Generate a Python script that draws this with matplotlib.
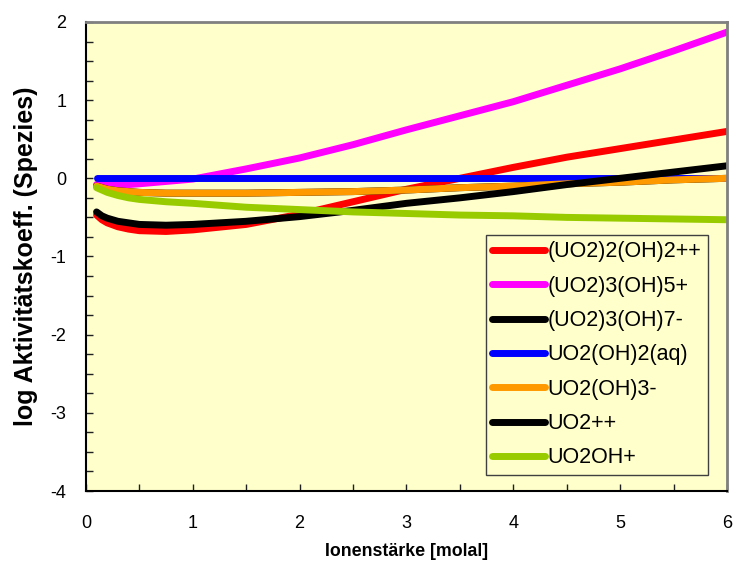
import matplotlib
matplotlib.use("Agg")
import matplotlib.pyplot as plt
from matplotlib.ticker import MultipleLocator

plt.rcParams['font.family'] = ['Liberation Sans', 'DejaVu Sans']
plt.rcParams['axes.unicode_minus'] = False

# ionic strength (molal)
ionic = [0.1, 0.15, 0.2, 0.3, 0.4, 0.5, 0.75, 1.0, 1.5, 2.0, 2.5, 3.0, 3.5, 4.0, 4.5, 5.0, 5.5, 6.0]

# log activity coefficients per species
uo2_2_oh2 = [-0.47, -0.53, -0.57, -0.62, -0.65, -0.67, -0.68, -0.66, -0.59, -0.46, -0.30, -0.14, 0.00, 0.14, 0.27, 0.38, 0.49, 0.60]
uo2_3_oh5 = [-0.08, -0.08, -0.08, -0.08, -0.08, -0.07, -0.04, -0.01, 0.12, 0.26, 0.43, 0.62, 0.80, 0.98, 1.19, 1.40, 1.63, 1.87]
uo2_oh3 = [-0.10, -0.12, -0.14, -0.16, -0.17, -0.18, -0.19, -0.19, -0.19, -0.18, -0.17, -0.15, -0.12, -0.10, -0.07, -0.05, -0.02, 0.00]
uo2_3_oh7 = list(uo2_oh3)
uo2_oh2_aq = [0.0] * len(ionic)
uo2 = [-0.43, -0.48, -0.51, -0.55, -0.57, -0.59, -0.60, -0.59, -0.55, -0.49, -0.41, -0.32, -0.25, -0.17, -0.08, 0.00, 0.08, 0.16]
uo2oh = [-0.12, -0.15, -0.18, -0.22, -0.25, -0.27, -0.30, -0.32, -0.37, -0.40, -0.43, -0.45, -0.47, -0.48, -0.50, -0.51, -0.52, -0.53]

series = [
    ("(UO2)2(OH)2++", uo2_2_oh2, "#FF0000"),
    ("(UO2)3(OH)5+", uo2_3_oh5, "#FF00FF"),
    ("(UO2)3(OH)7-", uo2_3_oh7, "#000000"),
    ("UO2(OH)2(aq)", uo2_oh2_aq, "#0000FF"),
    ("UO2(OH)3-", uo2_oh3, "#FF9900"),
    ("UO2++", uo2, "#000000"),
    ("UO2OH+", uo2oh, "#99CC00"),
]

fig = plt.figure(figsize=(7.34, 5.72), dpi=100)
ax = fig.add_axes([0.117, 0.1416, 0.8735, 0.82])
ax.set_facecolor("#FFFFCC")

for name, vals, col in series:
    ax.plot(ionic, vals, color=col, lw=5, solid_capstyle="round", label=name)

ax.set_xlim(0, 6)
ax.set_ylim(-4, 2)
ax.xaxis.set_major_locator(MultipleLocator(1))
ax.xaxis.set_minor_locator(MultipleLocator(0.5))
ax.yaxis.set_major_locator(MultipleLocator(1))
ax.yaxis.set_minor_locator(MultipleLocator(0.25))
ax.tick_params(which="both", direction="in", length=5, width=1, labelsize=13, color="#202020")
ax.tick_params(axis="x", pad=17)
ax.tick_params(axis="y", pad=14)

for s in ("left", "bottom"):
    ax.spines[s].set_color("#000000")
    ax.spines[s].set_linewidth(1.5)
for s in ("top", "right"):
    ax.spines[s].set_color("#808080")
    ax.spines[s].set_linewidth(2)

ax.set_xlabel("Ionenstärke [molal]", fontsize=12.8, fontweight="bold", labelpad=8)
ax.set_ylabel("log Aktivitätskoeff. (Spezies)", fontsize=18, fontweight="bold", labelpad=9)

leg = ax.legend(loc="upper left", bbox_to_anchor=(0.624, 0.546), fontsize=15.5,
                frameon=True, fancybox=False, facecolor="#FFFFCC", edgecolor="#404040",
                framealpha=1, handlelength=2.42, handletextpad=0.15, labelspacing=0.62,
                borderpad=0.3, borderaxespad=0)
leg.get_frame().set_linewidth(1)

fig.savefig("out.png", dpi=100)
